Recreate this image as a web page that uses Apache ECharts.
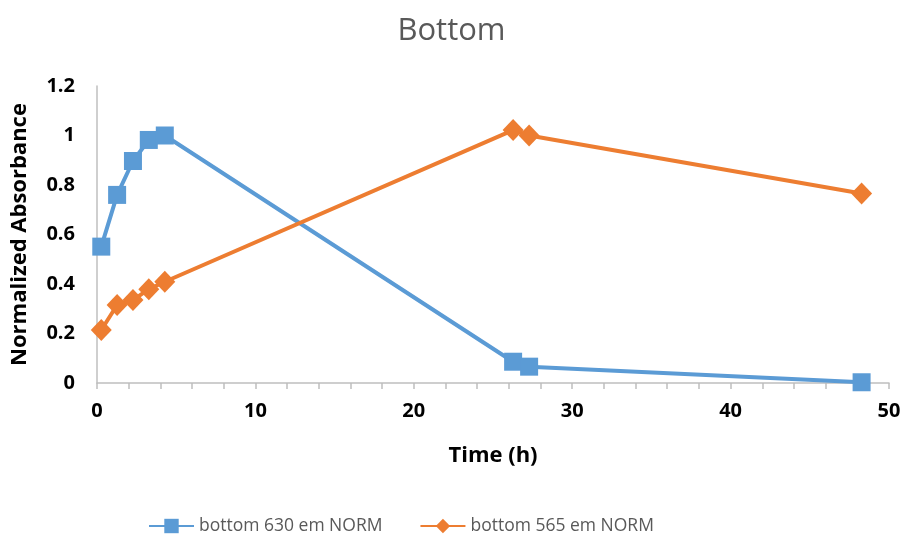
<!DOCTYPE html>
<html>
<head>
<meta charset="utf-8">
<script src="https://cdn.jsdelivr.net/npm/echarts@6/dist/echarts.min.js"></script>
<style>
  html, body { margin: 0; padding: 0; background: #fff; }
  #chart { width: 903px; height: 536px; }
</style>
</head>
<body>
<div id="chart"></div>
<script>
// Sampling times (h) and normalized absorbance readings
const timeHours = [0.27, 1.27, 2.27, 3.27, 4.28, 26.27, 27.28, 48.27];
const norm630 = [0.551, 0.76, 0.897, 0.982, 1.0, 0.086, 0.066, 0.003];
const norm565 = [0.214, 0.315, 0.335, 0.379, 0.409, 1.022, 1.0, 0.766];
const seriesNames = ['bottom 630 em NORM', 'bottom 565 em NORM'];

const pairs = (xs, ys) => xs.map((x, i) => [x, ys[i]]);

const chart = echarts.init(document.getElementById('chart'));
const font = "'Open Sans', 'Liberation Sans', sans-serif";
const axisGray = '#BFBFBF';

chart.setOption({
  animation: false,
  title: {
    text: 'Bottom',
    left: 'center',
    top: 11,
    textStyle: { fontFamily: font, fontSize: 31, fontWeight: 'normal', color: '#595959' }
  },
  legend: {
    top: 512,
    left: 143,
    itemGap: 37,
    itemWidth: 45,
    itemHeight: 18,
    textStyle: { fontFamily: font, fontSize: 17.5, color: '#595959' },
    data: seriesNames
  },
  grid: { left: 97, right: 14, top: 86, bottom: 153, containLabel: false, outerBoundsMode: 'none' },
  xAxis: [
    {
      type: 'value',
      min: 0, max: 50, interval: 10,
      name: 'Time (h)',
      nameLocation: 'middle',
      nameGap: 62,
      nameTextStyle: { fontFamily: font, fontSize: 22, fontWeight: 'bold', color: '#000' },
      axisLine: { lineStyle: { color: axisGray, width: 1.5 } },
      axisTick: { show: true, inside: false, length: 6, lineStyle: { color: axisGray, width: 1.5 } },
      splitLine: { show: false },
      axisLabel: { fontFamily: font, fontSize: 20, fontWeight: 'bold', color: '#000', margin: 18 }
    },
    {
      // minor tick marks every 2 h
      type: 'value',
      position: 'bottom',
      min: 0, max: 50, interval: 2,
      axisLine: { show: false },
      axisTick: { show: true, inside: false, length: 6, lineStyle: { color: axisGray, width: 1.5 } },
      axisLabel: { show: false },
      splitLine: { show: false }
    }
  ],
  yAxis: {
    type: 'value',
    min: 0, max: 1.2, interval: 0.2,
    name: 'Normalized Absorbance',
    nameLocation: 'middle',
    nameGap: 66,
    nameRotate: 90,
    nameTextStyle: { fontFamily: font, fontSize: 22, fontWeight: 'bold', color: '#000' },
    axisLine: { show: true, lineStyle: { color: axisGray, width: 1.5 } },
    axisTick: { show: false },
    splitLine: { show: false },
    axisLabel: { fontFamily: font, fontSize: 20, fontWeight: 'bold', color: '#000', margin: 22 }
  },
  series: [
    {
      name: seriesNames[0],
      type: 'line',
      data: pairs(timeHours, norm630),
      symbol: 'rect',
      symbolSize: 18,
      color: '#5B9BD5',
      lineStyle: { width: 4, color: '#5B9BD5' },
      itemStyle: { color: '#5B9BD5' }
    },
    {
      name: seriesNames[1],
      type: 'line',
      data: pairs(timeHours, norm565),
      symbol: 'diamond',
      symbolSize: [21, 22],
      color: '#ED7D31',
      lineStyle: { width: 4, color: '#ED7D31' },
      itemStyle: { color: '#ED7D31' }
    }
  ]
});
</script>
</body>
</html>
